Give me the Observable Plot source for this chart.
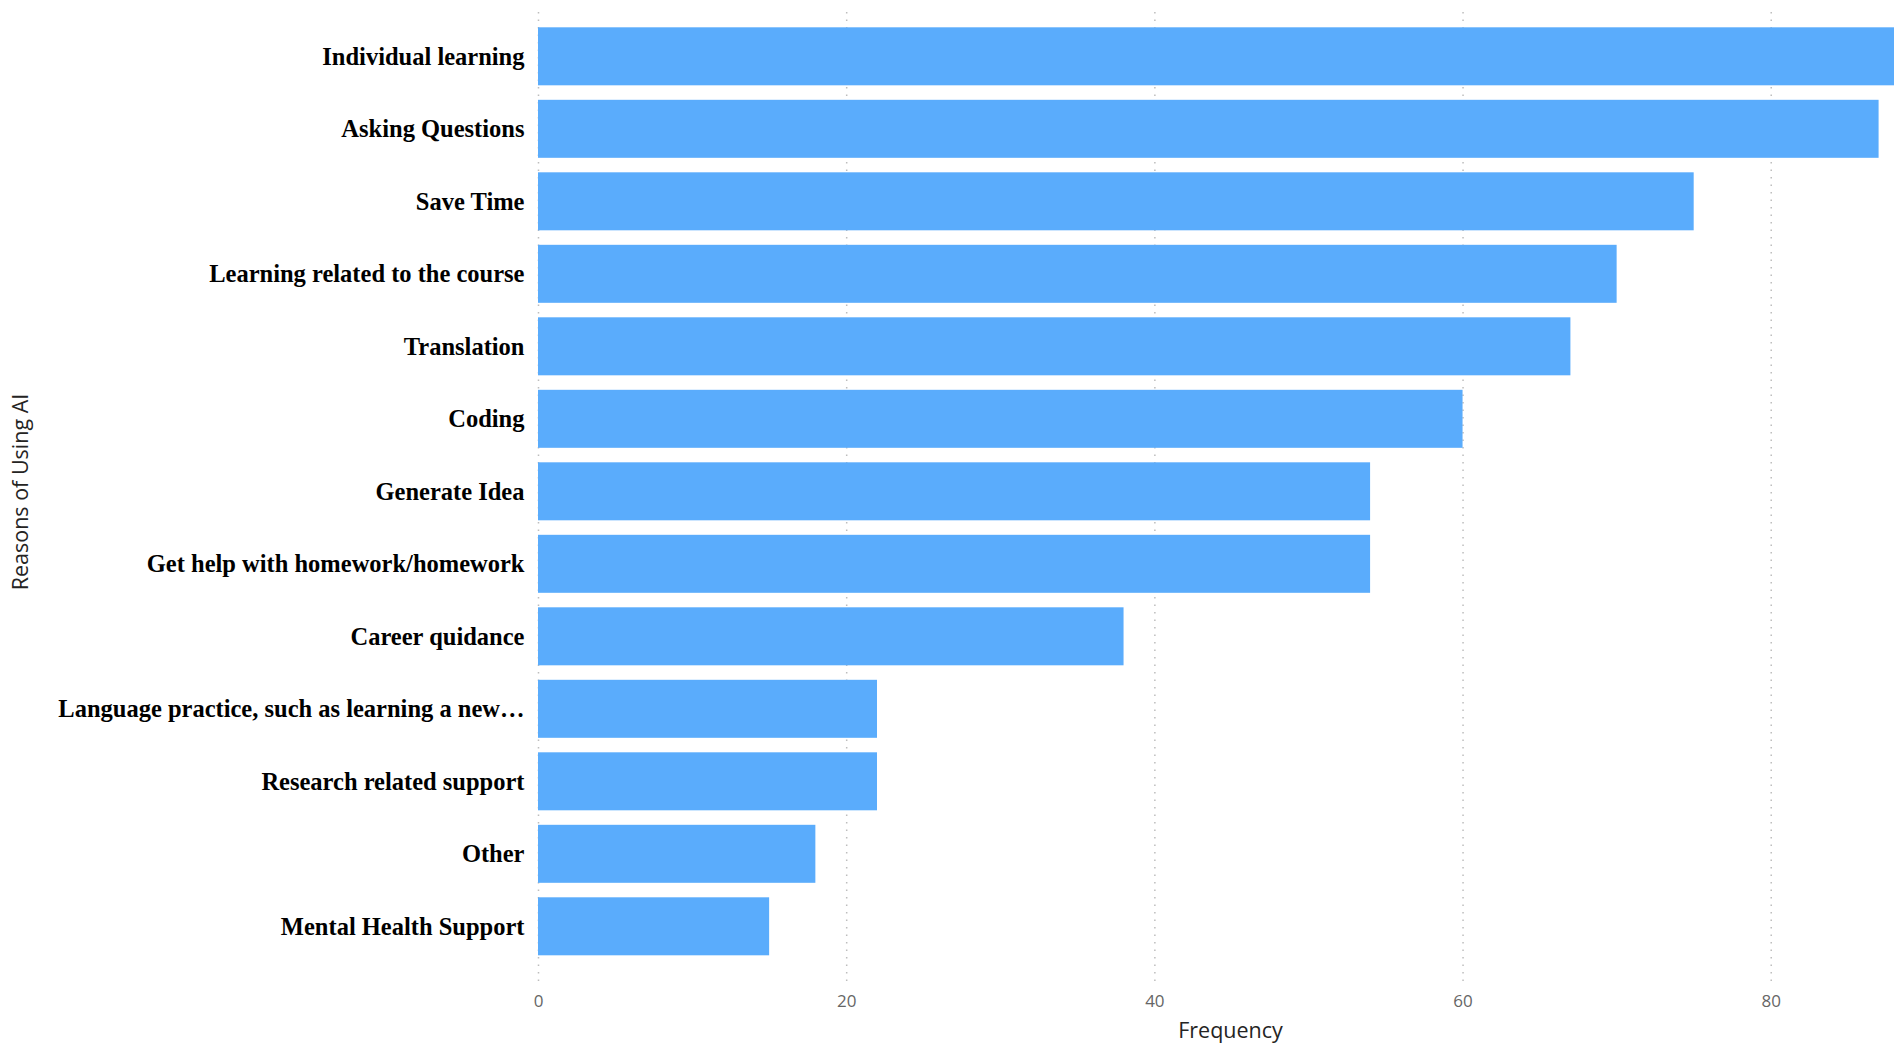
<!DOCTYPE html>
<html>
<head>
<meta charset="utf-8">
<script src="https://cdn.jsdelivr.net/npm/d3@7"></script>
<script src="https://cdn.jsdelivr.net/npm/@observablehq/plot@0.6"></script>
<style>
  html, body { margin: 0; padding: 0; background: #fff; }
  #chart svg { display: block; }
</style>
</head>
<body>
<div id="chart"></div>
<script>
const categories = [
  "Individual learning",
  "Asking Questions",
  "Save Time",
  "Learning related to the course",
  "Translation",
  "Coding",
  "Generate Idea",
  "Get help with homework/homework",
  "Career quidance",
  "Language practice, such as learning a new…",
  "Research related support",
  "Other",
  "Mental Health Support"
];
const frequencies = [88, 87, 75, 70, 67, 60, 54, 54, 38, 22, 22, 18, 15];
const xTicks = [0, 20, 40, 60, 80];
const xTitle = "Frequency";
const yTitle = "Reasons of Using AI";

const data = categories.map((c, i) => ({category: c, value: frequencies[i]}));

const chart = Plot.plot({
  width: 1902,
  height: 1052,
  marginLeft: 538,
  marginRight: 8,
  marginTop: 12,
  marginBottom: 69,
  style: {background: "#ffffff"},
  x: {domain: [0, 88], ticks: xTicks, label: null},
  y: {domain: categories, paddingInner: 0.2, paddingOuter: 0.2966, align: 0.356, round: false, label: null},
  marks: [
    Plot.gridX(xTicks, {stroke: "#bdbdbd", strokeOpacity: 1, strokeWidth: 1.5, strokeDasharray: "1.5,6"}),
    Plot.barX(data, {x: "value", y: "category", fill: "#5aacfc"}),
    Plot.axisX({ticks: xTicks, tickSize: 0, tickPadding: 11, fontSize: 17, fill: "#666666", fontFamily: "'Open Sans', sans-serif", label: null}),
    Plot.axisY({tickSize: 0, tickPadding: 14, fontSize: 24.5, fontWeight: "bold", fill: "#000000", fontFamily: "'Liberation Serif', 'Times New Roman', serif", label: null, textOverflow: null}),
    Plot.text([xTitle], {frameAnchor: "bottom", dx: 14, dy: 48, fontSize: 21.5, fill: "#252423", fontFamily: "'Open Sans', sans-serif", lineAnchor: "middle"}),
    Plot.text([yTitle], {frameAnchor: "left", dx: -517, dy: -6, rotate: -90, fontSize: 21.5, fill: "#252423", fontFamily: "'Open Sans', sans-serif", lineAnchor: "middle", textAnchor: "middle"})
  ]
});
document.getElementById("chart").appendChild(chart);
</script>
</body>
</html>
